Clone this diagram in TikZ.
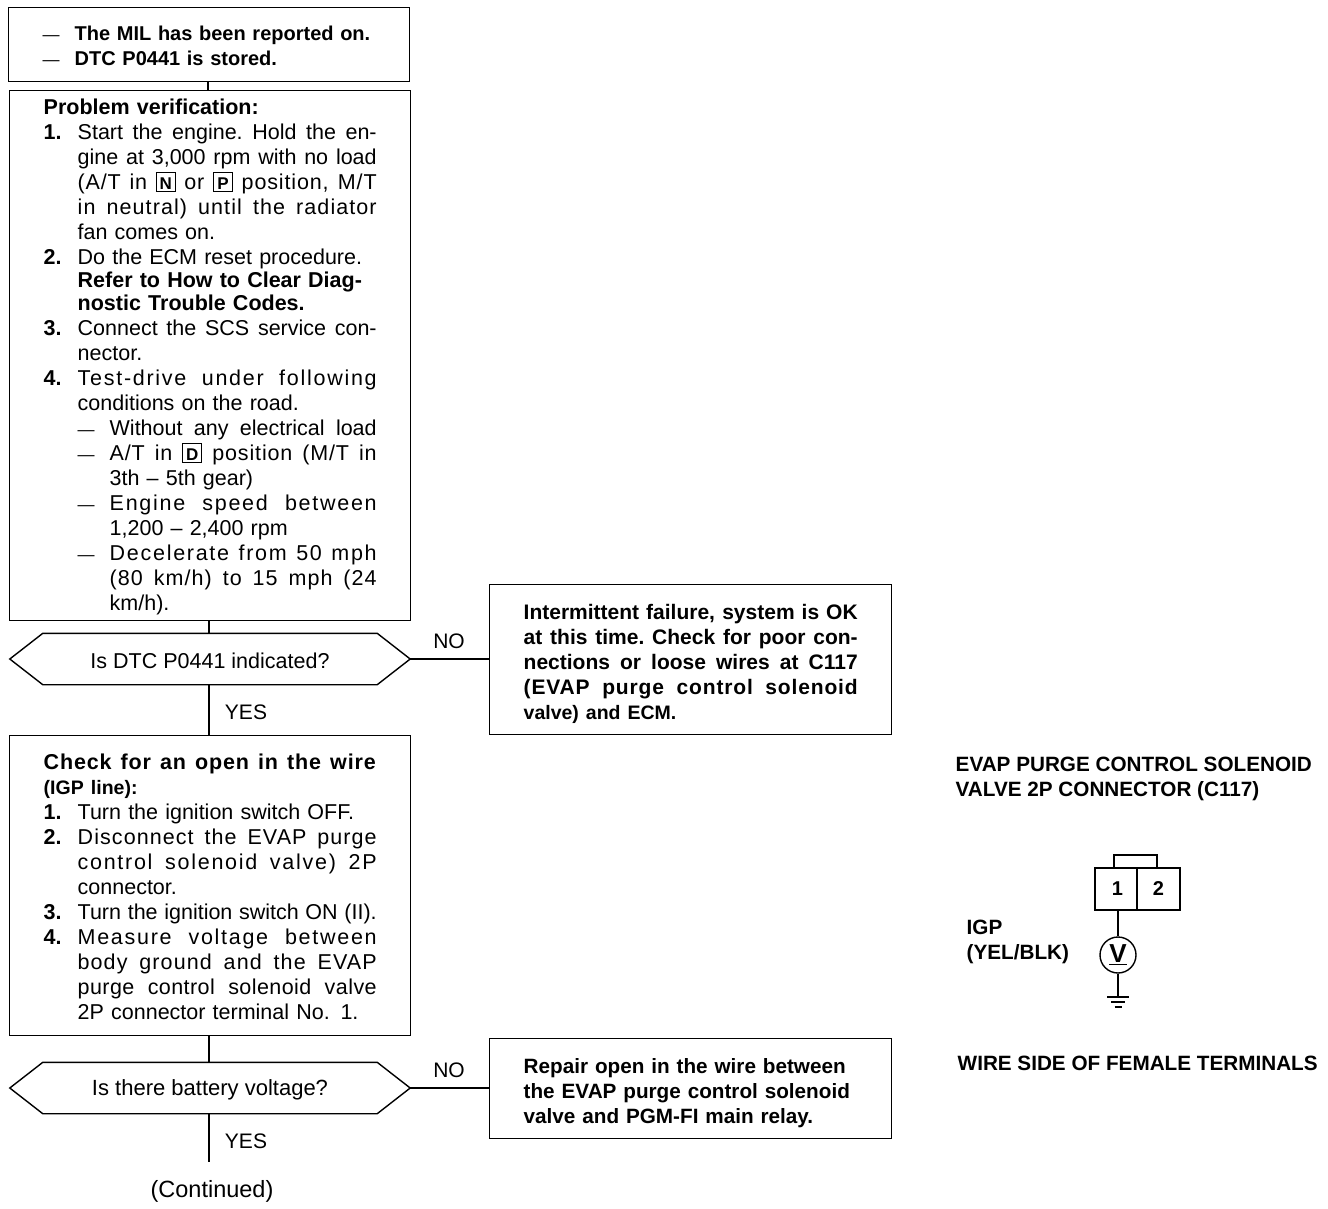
\documentclass[tikz,border=0pt]{standalone}
\usepackage{fontspec}
\setmainfont{Liberation Sans}
\usetikzlibrary{positioning}
\newcommand{\spacefill}{\spaceskip=.28em plus 1fil minus .12em\xspaceskip=\spaceskip\relax}
\newcommand{\fitline}[3][s]{\makebox[#2][#1]{\if s#1\spacefill\fi #3}}
\newcommand{\dashmark}{\makebox[32pt][l]{\fontsize{17}{25}\selectfont ---}}
\newcommand{\numline}[3][s]{\makebox[34pt][l]{#2}\fitline[#1]{299pt}{#3}}
\newcommand{\contline}[2][s]{\hspace*{34pt}\fitline[#1]{299pt}{#2}}
\newcommand{\dashline}[2][s]{\hspace*{34pt}\dashmark\fitline[#1]{267pt}{#2}}
\newcommand{\subline}[2][s]{\hspace*{66pt}\fitline[#1]{267pt}{#2}}
\newcommand{\tightfont}[1]{{\fontsize{19.5}{25}\selectfont #1}}
\newcommand{\tracked}[2]{{\addfontfeature{LetterSpace=#1}#2}}
\newcommand{\keybox}[1]{{\setlength{\fboxsep}{0pt}\setlength{\fboxrule}{1pt}\fbox{\makebox[18pt]{\rule[-2pt]{0pt}{18pt}\fontsize{17}{17}\selectfont\textbf{#1}}}}}
\newcommand{\hexpath}[1]{\draw (#1.west) -- ([xshift=33pt]#1.north west) -- ([xshift=-33pt]#1.north east) -- (#1.east) -- ([xshift=-33pt]#1.south east) -- ([xshift=33pt]#1.south west) -- cycle;}
\begin{document}
\begin{tikzpicture}[
  x=1pt, y=-1pt,
  line width=1.4pt,
  stepbox/.style={draw, anchor=north west, font=\fontsize{21.5}{25}\selectfont, align=left, inner ysep=0pt, minimum width=401pt, inner xsep=34pt, text width=333pt},
  sidebox/.style={stepbox, font=\fontsize{21}{25}\selectfont\bfseries, minimum width=402pt, text width=334pt},
  query/.style={minimum width=399pt, minimum height=50pt, inner sep=0pt, font=\fontsize{21.5}{25}\selectfont},
  answer/.style={font=\fontsize{21}{25}\selectfont},
  caption/.style={anchor=west, align=left, inner sep=0pt, font=\fontsize{20.7}{25}\selectfont\bfseries},
  pinbox/.style={draw, line width=2pt, minimum height=42pt, inner sep=0pt, font=\fontsize{20}{25}\selectfont\bfseries},
  wire/.style={line width=1.2pt}
]
\useasboundingbox (0,0) rectangle (1328,1208);

\node[stepbox, minimum height=74pt, font=\fontsize{20}{25}\selectfont] (mil) at (8,7) {%
\rule{0pt}{17pt}\dashmark\textbf{The MIL has been reported on.}\\
\dashmark\textbf{DTC P0441 is stored.}};

\node[stepbox, minimum height=530pt] (verify) at (9,90) {%
\rule{0pt}{18pt}\textbf{Problem verification:}\\
\numline{\textbf{1.}}{Start the engine. Hold the en-}\\
\contline{gine at 3,000 rpm with no load}\\
\contline{\tracked{4}{(A/T in} \keybox{N} \tracked{4}{or} \keybox{P} \tracked{4}{position, M/T}}\\
\contline{\tracked{5}{in neutral) until the radiator}}\\
\contline[l]{fan comes on.}\\
\numline[l]{\textbf{2.}}{Do the ECM reset procedure.}\\[-2pt]
\contline[l]{\textbf{Refer to How to Clear Diag-}}\\[-2pt]
\contline[l]{\textbf{nostic Trouble Codes.}}\\
\numline{\textbf{3.}}{Connect the SCS service con-}\\
\contline[l]{nector.}\\
\numline{\textbf{4.}}{\tracked{8}{Test-drive under following}}\\
\contline[l]{conditions on the road.}\\
\dashline{Without any electrical load}\\
\dashline{\tracked{4}{A/T in} \keybox{D} \tracked{4}{position (M/T in}}\\
\subline[l]{3th -- 5th gear)}\\
\dashline{\tracked{8}{Engine speed between}}\\
\subline[l]{1,200 -- 2,400 rpm}\\
\dashline{\tracked{8}{Decelerate from 50 mph}}\\
\subline{\tracked{5}{(80 km/h) to 15 mph (24}}\\
\subline[l]{km/h).}};

\node[query] (indicated) at (210,659) {\rule{0pt}{19pt}Is DTC P0441 indicated?};
\hexpath{indicated}

\node[sidebox, minimum height=150pt] (intermittent) at (489,584) {%
\rule{0pt}{23pt}\fitline{334pt}{Intermittent failure, system is OK}\\
\fitline{334pt}{at this time. Check for poor con-}\\
\fitline{334pt}{nections or loose wires at C117}\\
\fitline{334pt}{\tracked{4}{(EVAP purge control solenoid}}\\
\tightfont{valve) and ECM.}};

\node[stepbox, minimum height=300pt] (check) at (9,735) {%
\rule{0pt}{18pt}\fitline{333pt}{\textbf{\tracked{4}{Check for an open in the wire}}}\\
\tightfont{\textbf{(IGP line):}}\\
\numline[l]{\textbf{1.}}{Turn the ignition switch OFF.}\\
\numline{\textbf{2.}}{\tracked{5}{Disconnect the EVAP purge}}\\
\contline{\tracked{8}{control solenoid valve) 2P}}\\
\contline[l]{connector.}\\
\numline{\textbf{3.}}{Turn the ignition switch ON (II).}\\
\numline{\textbf{4.}}{\tracked{8}{Measure voltage between}}\\
\contline{\tracked{5}{body ground and the EVAP}}\\
\contline{\tracked{2}{purge control solenoid valve}}\\
\contline[l]{2P connector terminal No. 1.}};

\node[query, font=\fontsize{22}{25}\selectfont] (voltage) at (210,1088) {\rule{0pt}{19pt}Is there battery voltage?};
\hexpath{voltage}

\node[sidebox, minimum height=100pt, font=\fontsize{20.7}{25}\selectfont\bfseries] (repair) at (489,1038) {%
\rule{0pt}{23pt}Repair open in the wire between\\
the EVAP purge control solenoid\\
valve and PGM-FI main relay.};

\node[font=\fontsize{23.5}{25}\selectfont, inner sep=0pt] (continued) at (212,1191) {(Continued)};
\coordinate (end) at (209,1162);

\draw (mil.south -| 208,0) -- (verify.north -| 208,0);
\draw (verify.south -| 209,0) -- (indicated.north -| 209,0);
\draw (indicated.south -| 209,0) -- (check.north -| 209,0);
\draw (check.south -| 209,0) -- (voltage.north -| 209,0);
\draw (voltage.south -| 209,0) -- (end);
\draw (indicated.east) -- (indicated.east -| intermittent.west);
\draw (voltage.east) -- (voltage.east -| repair.west);

\node[answer] (no1) at (449,641) {NO};
\node[answer] (yes1) at (246,712) {YES};
\node[answer] (no2) at (449,1070) {NO};
\node[answer] (yes2) at (246,1141) {YES};

\node[caption] (title) at (955,778.5) {EVAP PURGE CONTROL SOLENOID\\VALVE 2P CONNECTOR (C117)};
\node[caption] (igp) at (966,942) {IGP\\(YEL/BLK)};
\node[caption] (side) at (957,1063) {WIRE SIDE OF FEMALE TERMINALS};

\node[pinbox, minimum width=42pt] (pin1) at (1116,889) {\hspace*{3pt}1};
\node[pinbox, minimum width=43pt] (pin2) at (1158.5,889) {2};
\draw[line width=2pt] (1114,868) |- (1157,855) -- (1157,868);

\node[draw, circle, minimum size=36pt, inner sep=0pt, font=\fontsize{26}{26}\selectfont\bfseries] (meter) at (1118,955) {\underline{V}};
\coordinate (gnd) at (1118,997);
\draw[wire] (pin1.south -| meter.north) -- (meter.north);
\draw[wire] (meter.south) -- (gnd);
\draw[wire] (1107,997) -- (1129,997);
\draw[wire] (1111,1002) -- (1125,1002);
\draw[wire] (1114.5,1007) -- (1121.5,1007);
\end{tikzpicture}
\end{document}
